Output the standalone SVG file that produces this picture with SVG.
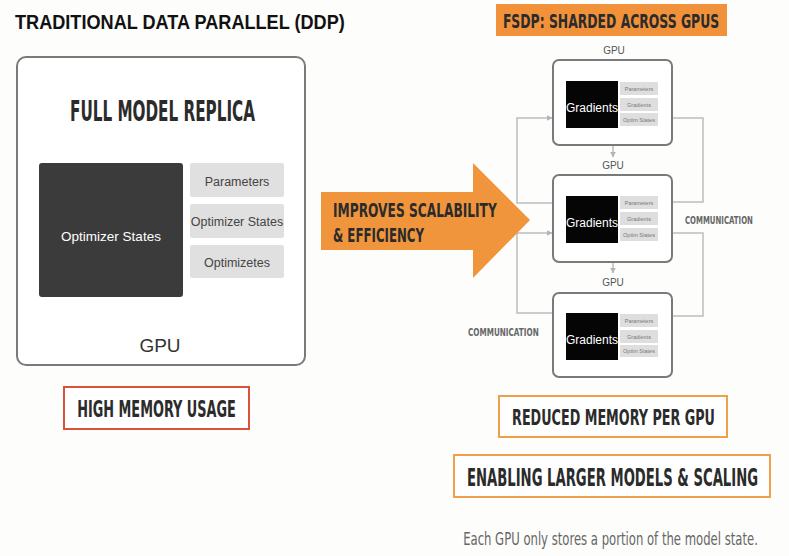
<svg xmlns="http://www.w3.org/2000/svg" width="789" height="556" viewBox="0 0 789 556">
<defs>
<style>
.cond{font-family:"DejaVu Sans Condensed","Liberation Sans Narrow","Liberation Sans",sans-serif;font-weight:bold;fill:#2b2b2b}
.gpubox{fill:#fff;stroke:#7a7a7a;stroke-width:2}
.grad{fill:#050505}
.chip{fill:#dedede}
.chipt{font-family:"Liberation Sans",sans-serif;font-size:5.5px;fill:#777;text-anchor:middle}
.gradt{font-family:"Liberation Sans",sans-serif;font-size:12px;fill:#fff;text-anchor:middle}
.small{font-family:"Liberation Sans",sans-serif;font-size:10px;fill:#555;text-anchor:middle}
.comm{font-family:"DejaVu Sans Condensed",sans-serif;font-size:11px;fill:#666;font-weight:bold}
.conn{fill:none;stroke:#bdbdbd;stroke-width:1.5}
.lbl{font-family:"Liberation Sans",sans-serif;font-size:12.5px;fill:#444;text-anchor:middle}
</style>
<marker id="ah" viewBox="0 0 10 10" refX="9" refY="5" markerWidth="6" markerHeight="6" markerUnits="userSpaceOnUse" orient="auto">
<path d="M0,0 L10,5 L0,10 z" fill="#b5b5b5"/>
</marker>
</defs>
<rect width="789" height="556" fill="#fdfdfc"/>

<g id="title-ddp">
<text transform="translate(15,29) scale(0.85,1)" x="0" y="0" font-family="Liberation Sans,Arial,sans-serif" font-size="21" font-weight="bold" fill="#111" textLength="388" lengthAdjust="spacingAndGlyphs">TRADITIONAL DATA PARALLEL (DDP)</text>
</g>

<g id="ddp-gpu">
<rect x="17" y="57" width="288" height="308" rx="9" fill="#fff" stroke="#7a7a7a" stroke-width="2"/>
<text transform="translate(162.5,121) scale(0.58,1)" class="cond" font-size="29" text-anchor="middle" textLength="319" lengthAdjust="spacingAndGlyphs">FULL MODEL REPLICA</text>
<rect x="39" y="163" width="144" height="134" rx="3" fill="#3b3b3b"/>
<text x="111" y="241" font-family="Liberation Sans,sans-serif" font-size="13.5" fill="#fff" text-anchor="middle">Optimizer States</text>
<rect x="190" y="163" width="94" height="34" rx="2" fill="#e0e0e0"/>
<text x="237" y="186" class="lbl">Parameters</text>
<rect x="190" y="204" width="94" height="34" rx="2" fill="#e0e0e0"/>
<text x="237" y="226" class="lbl" font-size="12">Optimizer States</text>
<rect x="190" y="245" width="94" height="33" rx="2" fill="#e0e0e0"/>
<text x="237" y="267" class="lbl">Optimizetes</text>
<text x="160" y="352" font-family="Liberation Sans,sans-serif" font-size="19" fill="#333" text-anchor="middle">GPU</text>
</g>

<g id="high-memory">
<rect x="64" y="387" width="185" height="42" fill="#fff" stroke="#d9533b" stroke-width="2"/>
<text transform="translate(156.5,417) scale(0.62,1)" class="cond" font-size="23" text-anchor="middle" textLength="256" lengthAdjust="spacingAndGlyphs">HIGH MEMORY USAGE</text>
</g>

<g id="title-fsdp">
<rect x="496" y="4" width="231" height="32" fill="#f1923a"/>
<text transform="translate(611,28) scale(0.68,1)" class="cond" font-size="20" text-anchor="middle" textLength="318" lengthAdjust="spacingAndGlyphs">FSDP: SHARDED ACROSS GPUS</text>
</g>

<g id="connectors">
<path class="conn" d="M553,203 H517 V118 H552" marker-end="url(#ah)"/>
<path class="conn" d="M553,313 H517 V233 H552" marker-end="url(#ah)"/>
<path class="conn" d="M672,118 H703 V202 H672"/>
<path class="conn" d="M672,233 H703 V316 H672"/>
<path class="conn" d="M613,145 V157" marker-end="url(#ah)"/>
<path class="conn" d="M613,262 V273" marker-end="url(#ah)"/>
</g>

<g id="arrow-scalability">
<polygon points="321,192 473,192 473,163 530,220 473,278 473,250 321,250" fill="#f1953d"/>
<text transform="translate(333,217) scale(0.7,1)" class="cond" font-size="19" textLength="234" lengthAdjust="spacingAndGlyphs">IMPROVES SCALABILITY</text>
<text transform="translate(333,242) scale(0.7,1)" class="cond" font-size="19" textLength="130" lengthAdjust="spacingAndGlyphs">&amp; EFFICIENCY</text>
</g>

<g id="gpu1">
<text x="614" y="54" class="small">GPU</text>
<rect class="gpubox" x="553" y="60" width="119" height="85" rx="6"/>
<rect class="grad" x="566" y="81" width="52" height="47"/>
<text x="592" y="112" class="gradt">Gradients</text>
<rect class="chip" x="620" y="82" width="38" height="13"/>
<text x="639" y="90.5" class="chipt">Parameters</text>
<rect class="chip" x="620" y="98" width="38" height="13"/>
<text x="639" y="106.5" class="chipt">Gradients</text>
<rect class="chip" x="620" y="113" width="38" height="13"/>
<text x="639" y="121.5" class="chipt">Optim States</text>
</g>

<g id="gpu2">
<text x="613" y="169" class="small">GPU</text>
<rect class="gpubox" x="553" y="175" width="119" height="87" rx="6"/>
<rect class="grad" x="566" y="196" width="52" height="47"/>
<text x="592" y="227" class="gradt">Gradients</text>
<rect class="chip" x="620" y="196" width="38" height="13"/>
<text x="639" y="204.5" class="chipt">Parameters</text>
<rect class="chip" x="620" y="212" width="38" height="13"/>
<text x="639" y="220.5" class="chipt">Gradients</text>
<rect class="chip" x="620" y="228" width="38" height="13"/>
<text x="639" y="236.5" class="chipt">Optim States</text>
</g>

<g id="gpu3">
<text x="613" y="286" class="small">GPU</text>
<rect class="gpubox" x="553" y="293" width="119" height="84" rx="6"/>
<rect class="grad" x="566" y="313" width="52" height="47"/>
<text x="592" y="344" class="gradt">Gradients</text>
<rect class="chip" x="620" y="314" width="38" height="13"/>
<text x="639" y="322.5" class="chipt">Parameters</text>
<rect class="chip" x="620" y="330" width="38" height="13"/>
<text x="639" y="338.5" class="chipt">Gradients</text>
<rect class="chip" x="620" y="345" width="38" height="12"/>
<text x="639" y="353" class="chipt">Optim States</text>
</g>

<g id="labels-comm">
<text transform="translate(685,224) scale(0.7,1)" class="comm" textLength="97" lengthAdjust="spacingAndGlyphs">COMMUNICATION</text>
<text transform="translate(468,336) scale(0.7,1)" class="comm" textLength="101" lengthAdjust="spacingAndGlyphs">COMMUNICATION</text>
</g>

<g id="reduced-memory">
<rect x="499" y="396" width="228" height="41" fill="#fff" stroke="#f0a04b" stroke-width="2"/>
<text transform="translate(613.5,425) scale(0.64,1)" class="cond" font-size="22" text-anchor="middle" textLength="317" lengthAdjust="spacingAndGlyphs">REDUCED MEMORY PER GPU</text>
</g>

<g id="enabling-larger">
<rect x="454" y="455" width="316" height="42" fill="#fff" stroke="#f0a04b" stroke-width="2"/>
<text transform="translate(612.5,486) scale(0.58,1)" class="cond" font-size="25" text-anchor="middle" textLength="502" lengthAdjust="spacingAndGlyphs">ENABLING LARGER MODELS &amp; SCALING</text>
</g>

<g id="footnote">
<text transform="translate(610.5,545) scale(0.7,1)" font-family="DejaVu Sans Condensed,sans-serif" font-size="17" fill="#666" text-anchor="middle" textLength="421" lengthAdjust="spacingAndGlyphs">Each GPU only stores a portion of the model state.</text>
</g>
</svg>
